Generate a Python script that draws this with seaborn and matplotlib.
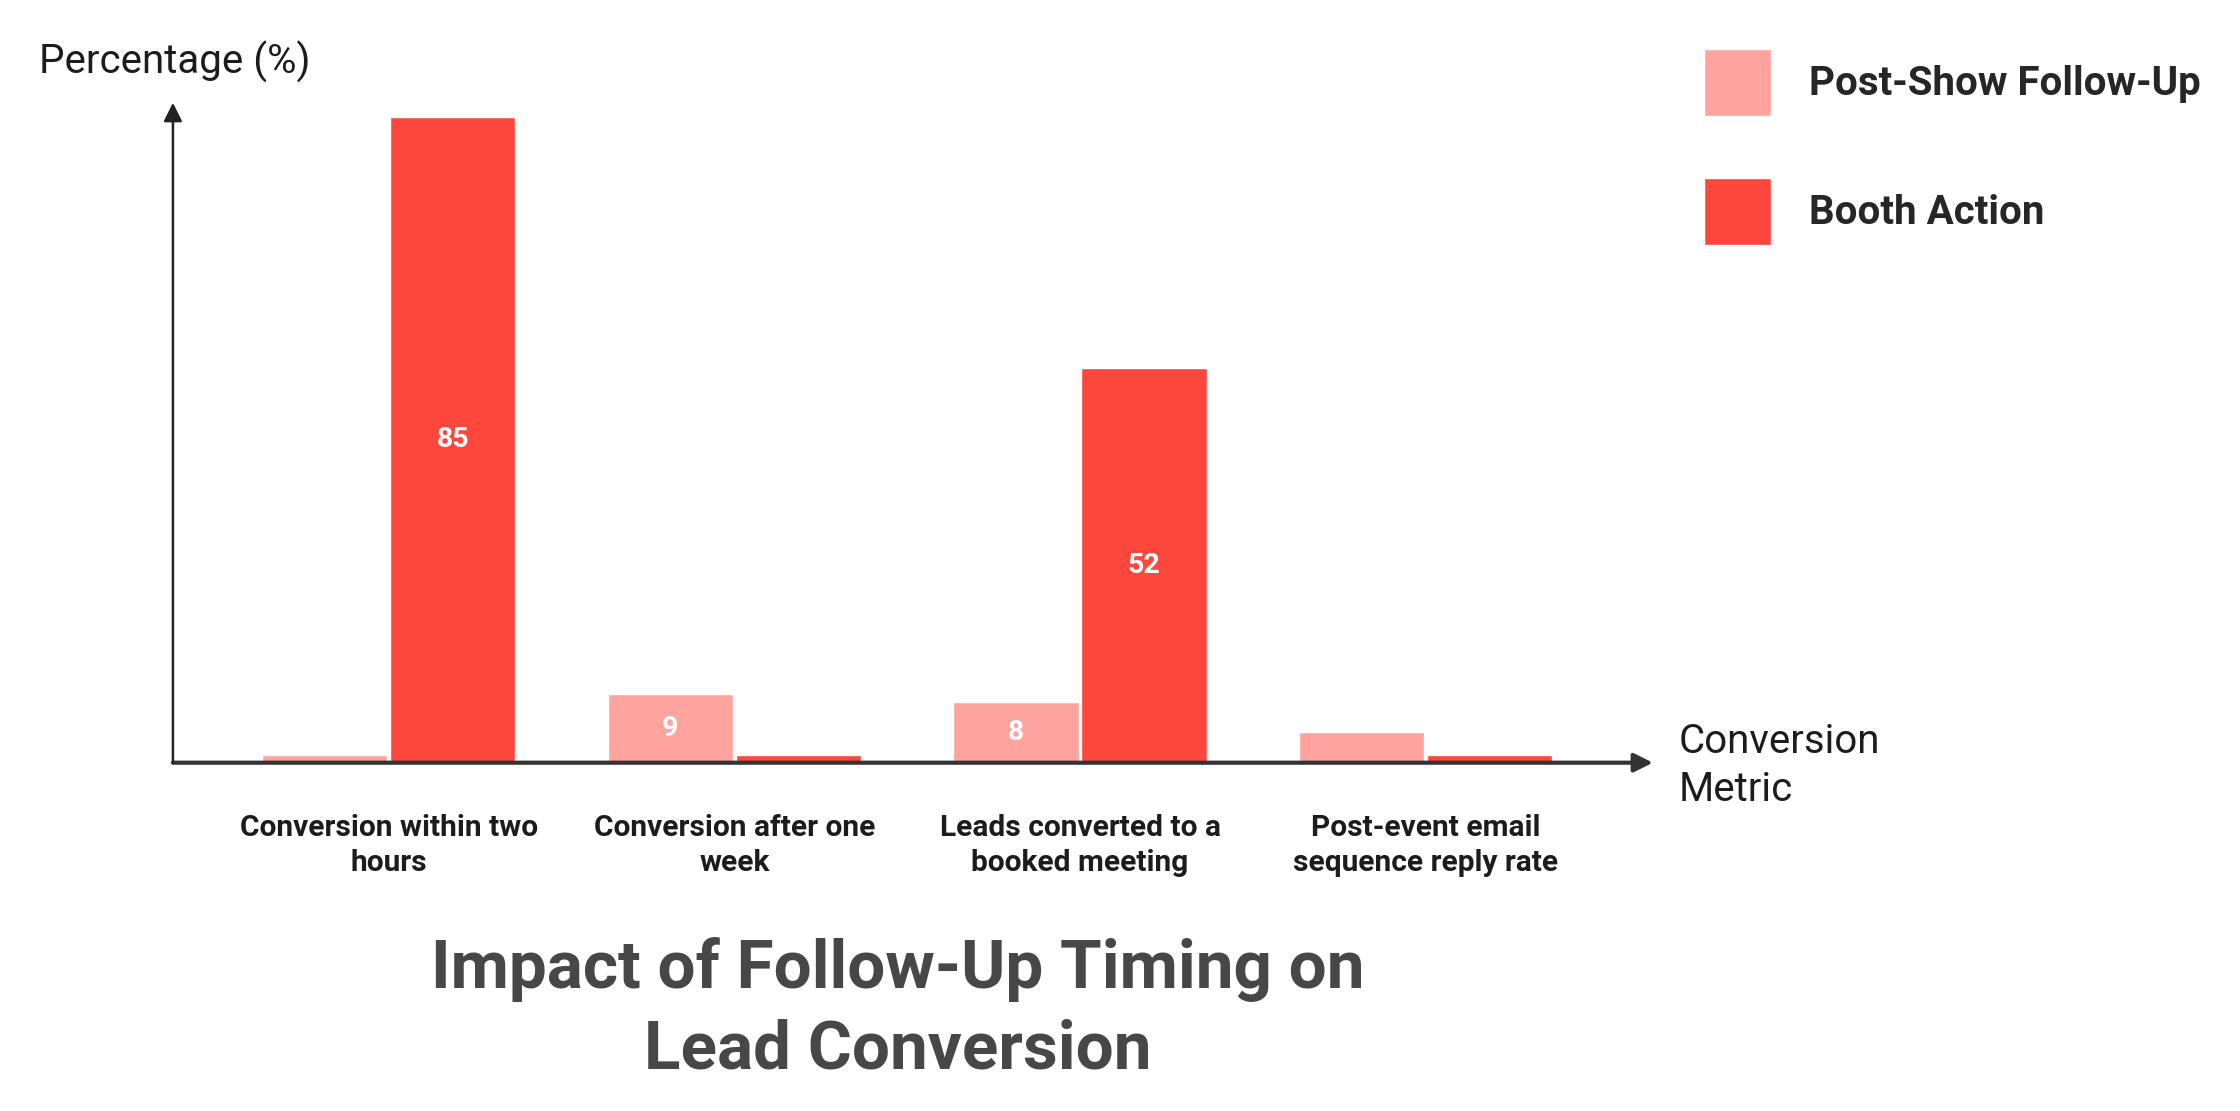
import pandas as pd
import matplotlib
matplotlib.use('Agg')
import matplotlib.pyplot as plt
import seaborn as sns

metrics = ['Conversion within two\nhours', 'Conversion after one\nweek',
           'Leads converted to a\nbooked meeting', 'Post-event email\nsequence reply rate']
series = ['Post-Show Follow-Up', 'Booth Action']
post_show = [1, 9, 8, 4]
booth = [85, 1, 52, 1]
colors = {'Post-Show Follow-Up': '#FFA39E', 'Booth Action': '#FD473D'}

df = pd.DataFrame({
    'metric': metrics * 2,
    'series': [series[0]] * 4 + [series[1]] * 4,
    'value': post_show + booth,
})

sns.set_theme(style='white')
plt.rcParams['font.family'] = ['Roboto', 'DejaVu Sans']

fig = plt.figure(figsize=(22.4, 11.11), dpi=100)
ax = fig.add_axes([0.0772, 0.3135, 0.7379 - 0.0772, 0.9075 - 0.3135])

sns.barplot(data=df, x='metric', y='value', hue='series', palette=colors,
            width=0.74, gap=0.02, saturation=1, ax=ax, legend=True)

ax.set_xlim(-0.624, 3.657)
ax.set_ylim(0, 86.9)
for s in ax.spines.values():
    s.set_visible(False)
ax.set_yticks([])
ax.set_xlabel('')
ax.set_ylabel('')
ax.tick_params(axis='x', length=0, pad=37)
for lbl in ax.get_xticklabels():
    lbl.set_fontsize(21.5)
    lbl.set_fontweight('bold')
    lbl.set_color('#1c1c1c')
    lbl.set_linespacing(1.3)

# value labels in the middle of the larger bars
for cont in ax.containers:
    labels = [f'{v:.0f}' if v > 5 else '' for v in cont.datavalues]
    ax.bar_label(cont, labels=labels, label_type='center', color='white',
                 fontsize=20.5, fontweight='bold')

# axes with arrows
ax.annotate('', xy=(1, 0), xytext=(0, 0), xycoords='axes fraction',
            arrowprops=dict(arrowstyle='-|>', color='#333333', lw=3,
                            mutation_scale=28, shrinkA=0, shrinkB=0))
ax.annotate('', xy=(0, 1), xytext=(0, 0), xycoords='axes fraction',
            arrowprops=dict(arrowstyle='-|>', color='#222222', lw=1.8,
                            mutation_scale=28, shrinkA=0, shrinkB=0))

fig.text(0.0174, 0.944, 'Percentage (%)', fontsize=29, color='#1c1c1c',
         ha='left', va='center')
fig.text(0.7496, 0.311, 'Conversion\nMetric', fontsize=29, color='#1c1c1c',
         ha='left', va='center', linespacing=1.3)

fig.text(0.401, 0.091, 'Impact of Follow-Up Timing on\nLead Conversion',
         fontsize=48.5, fontweight='bold', color='#474747', ha='center',
         va='center', linespacing=1.34)

handles, labels = ax.get_legend_handles_labels()
ax.get_legend().remove()
fig.legend(handles, labels, loc='upper left', bbox_to_anchor=(0.7607, 0.956),
           frameon=False, prop={'weight': 'bold', 'size': 29},
           handlelength=1.67, handleheight=2.2, handletextpad=0.95,
           labelspacing=1.52, borderpad=0, borderaxespad=0)

fig.savefig('out.png', dpi=100, facecolor='white')
